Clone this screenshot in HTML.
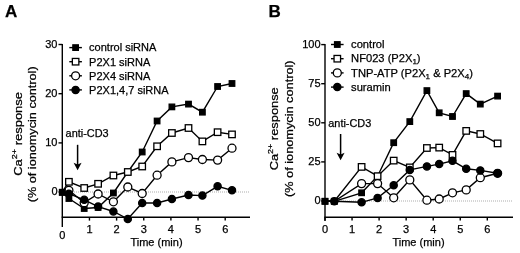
<!DOCTYPE html>
<html><head><meta charset="utf-8"><title>Figure</title>
<style>html,body{margin:0;padding:0;background:#fff}svg{display:block;filter:blur(0.35px)}text{font-family:"Liberation Sans", Arial, sans-serif;fill:#000;stroke:#000;stroke-width:0.25px}</style>
</head><body>
<svg width="520" height="253" viewBox="0 0 520 253">
<rect width="520" height="253" fill="#fff"/>
<text x="5" y="16.8" font-size="17" text-anchor="start" font-weight="bold">A</text>
<text x="268.5" y="16.8" font-size="17" text-anchor="start" font-weight="bold">B</text>
<path d="M62.3,43.9 V226.9" stroke="#000" stroke-width="1.4" fill="none"/>
<path d="M61.699999999999996,217.3 H250" stroke="#000" stroke-width="1.4" fill="none"/>
<path d="M58.5,44.5 H62.3" stroke="#000" stroke-width="1.4"/>
<text x="57.5" y="47.9" font-size="11" text-anchor="end" >30</text>
<path d="M58.5,93.7 H62.3" stroke="#000" stroke-width="1.4"/>
<text x="57.5" y="97.10000000000001" font-size="11" text-anchor="end" >20</text>
<path d="M58.5,142.9 H62.3" stroke="#000" stroke-width="1.4"/>
<text x="57.5" y="146.3" font-size="11" text-anchor="end" >10</text>
<path d="M58.5,192 H62.3" stroke="#000" stroke-width="1.4"/>
<text x="57.5" y="195.4" font-size="11" text-anchor="end" >0</text>
<text x="62.3" y="239.10000000000002" font-size="11" text-anchor="middle" >0</text>
<path d="M89.44999999999999,217.3 V220.60000000000002" stroke="#000" stroke-width="1.4"/>
<text x="89.44999999999999" y="232.9" font-size="11" text-anchor="middle" >1</text>
<path d="M116.6,217.3 V220.60000000000002" stroke="#000" stroke-width="1.4"/>
<text x="116.6" y="232.9" font-size="11" text-anchor="middle" >2</text>
<path d="M143.75,217.3 V220.60000000000002" stroke="#000" stroke-width="1.4"/>
<text x="143.75" y="232.9" font-size="11" text-anchor="middle" >3</text>
<path d="M170.89999999999998,217.3 V220.60000000000002" stroke="#000" stroke-width="1.4"/>
<text x="170.89999999999998" y="232.9" font-size="11" text-anchor="middle" >4</text>
<path d="M198.05,217.3 V220.60000000000002" stroke="#000" stroke-width="1.4"/>
<text x="198.05" y="232.9" font-size="11" text-anchor="middle" >5</text>
<path d="M225.2,217.3 V220.60000000000002" stroke="#000" stroke-width="1.4"/>
<text x="225.2" y="232.9" font-size="11" text-anchor="middle" >6</text>
<path d="M62,192 H250" stroke="#777" stroke-width="0.6" stroke-dasharray="1,1"/>
<text x="156.5" y="246.4" font-size="11" text-anchor="middle" >Time (min)</text>
<text transform="translate(21.8,133.9) rotate(-90) scale(1.128,1)" font-size="11.5" text-anchor="middle">Ca<tspan font-size="8" dy="-4.5">2+</tspan><tspan dy="4.5"> response</tspan></text>
<text transform="translate(36.1,134.3) rotate(-90) scale(1.103,1)" font-size="11.5" text-anchor="middle">(% of ionomycin control)</text>
<polyline fill="none" stroke="#000" stroke-width="1.4" points="62.30,192.30 68.90,198.50 84.20,208.50 98.10,207.50 113.40,193.00 127.80,172.00 142.20,152.00 157.10,121.00 171.90,106.90 188.50,104.10 202.40,112.20 217.60,86.50 232.00,83.50"/>
<rect x="59.55" y="189.55" width="5.5" height="5.5" fill="#000" stroke="#000" stroke-width="1.3"/>
<rect x="66.15" y="195.75" width="5.5" height="5.5" fill="#000" stroke="#000" stroke-width="1.3"/>
<rect x="81.45" y="205.75" width="5.5" height="5.5" fill="#000" stroke="#000" stroke-width="1.3"/>
<rect x="95.35" y="204.75" width="5.5" height="5.5" fill="#000" stroke="#000" stroke-width="1.3"/>
<rect x="110.65" y="190.25" width="5.5" height="5.5" fill="#000" stroke="#000" stroke-width="1.3"/>
<rect x="125.05" y="169.25" width="5.5" height="5.5" fill="#000" stroke="#000" stroke-width="1.3"/>
<rect x="139.45" y="149.25" width="5.5" height="5.5" fill="#000" stroke="#000" stroke-width="1.3"/>
<rect x="154.35" y="118.25" width="5.5" height="5.5" fill="#000" stroke="#000" stroke-width="1.3"/>
<rect x="169.15" y="104.15" width="5.5" height="5.5" fill="#000" stroke="#000" stroke-width="1.3"/>
<rect x="185.75" y="101.35" width="5.5" height="5.5" fill="#000" stroke="#000" stroke-width="1.3"/>
<rect x="199.65" y="109.45" width="5.5" height="5.5" fill="#000" stroke="#000" stroke-width="1.3"/>
<rect x="214.85" y="83.75" width="5.5" height="5.5" fill="#000" stroke="#000" stroke-width="1.3"/>
<rect x="229.25" y="80.75" width="5.5" height="5.5" fill="#000" stroke="#000" stroke-width="1.3"/>
<polyline fill="none" stroke="#000" stroke-width="1.4" points="62.30,192.00 68.90,181.80 84.20,188.00 98.10,183.80 113.40,175.50 127.80,172.00 142.20,166.50 157.10,146.30 171.90,133.00 188.50,128.00 202.40,141.40 217.60,132.20 232.00,134.40"/>
<rect x="65.65" y="178.55" width="6.5" height="6.5" fill="#fff" stroke="#000" stroke-width="1.3"/>
<rect x="80.95" y="184.75" width="6.5" height="6.5" fill="#fff" stroke="#000" stroke-width="1.3"/>
<rect x="94.85" y="180.55" width="6.5" height="6.5" fill="#fff" stroke="#000" stroke-width="1.3"/>
<rect x="110.15" y="172.25" width="6.5" height="6.5" fill="#fff" stroke="#000" stroke-width="1.3"/>
<rect x="124.55" y="168.75" width="6.5" height="6.5" fill="#fff" stroke="#000" stroke-width="1.3"/>
<rect x="138.95" y="163.25" width="6.5" height="6.5" fill="#fff" stroke="#000" stroke-width="1.3"/>
<rect x="153.85" y="143.05" width="6.5" height="6.5" fill="#fff" stroke="#000" stroke-width="1.3"/>
<rect x="168.65" y="129.75" width="6.5" height="6.5" fill="#fff" stroke="#000" stroke-width="1.3"/>
<rect x="185.25" y="124.75" width="6.5" height="6.5" fill="#fff" stroke="#000" stroke-width="1.3"/>
<rect x="199.15" y="138.15" width="6.5" height="6.5" fill="#fff" stroke="#000" stroke-width="1.3"/>
<rect x="214.35" y="128.95" width="6.5" height="6.5" fill="#fff" stroke="#000" stroke-width="1.3"/>
<rect x="228.75" y="131.15" width="6.5" height="6.5" fill="#fff" stroke="#000" stroke-width="1.3"/>
<polyline fill="none" stroke="#000" stroke-width="1.4" points="62.30,192.00 68.90,190.30 84.20,202.70 98.10,194.00 113.40,201.80 127.80,187.00 142.20,193.50 157.10,175.20 171.90,161.90 188.50,157.60 202.40,159.50 217.60,160.10 232.00,148.20"/>
<circle cx="68.90" cy="190.30" r="4.0" fill="#fff" stroke="#000" stroke-width="1.3"/>
<circle cx="84.20" cy="202.70" r="4.0" fill="#fff" stroke="#000" stroke-width="1.3"/>
<circle cx="98.10" cy="194.00" r="4.0" fill="#fff" stroke="#000" stroke-width="1.3"/>
<circle cx="113.40" cy="201.80" r="4.0" fill="#fff" stroke="#000" stroke-width="1.3"/>
<circle cx="127.80" cy="187.00" r="4.0" fill="#fff" stroke="#000" stroke-width="1.3"/>
<circle cx="142.20" cy="193.50" r="4.0" fill="#fff" stroke="#000" stroke-width="1.3"/>
<circle cx="157.10" cy="175.20" r="4.0" fill="#fff" stroke="#000" stroke-width="1.3"/>
<circle cx="171.90" cy="161.90" r="4.0" fill="#fff" stroke="#000" stroke-width="1.3"/>
<circle cx="188.50" cy="157.60" r="4.0" fill="#fff" stroke="#000" stroke-width="1.3"/>
<circle cx="202.40" cy="159.50" r="4.0" fill="#fff" stroke="#000" stroke-width="1.3"/>
<circle cx="217.60" cy="160.10" r="4.0" fill="#fff" stroke="#000" stroke-width="1.3"/>
<circle cx="232.00" cy="148.20" r="4.0" fill="#fff" stroke="#000" stroke-width="1.3"/>
<polyline fill="none" stroke="#000" stroke-width="1.4" points="62.30,192.00 68.90,193.70 84.20,199.80 98.10,206.60 113.40,211.50 127.80,219.00 142.20,203.00 157.10,203.00 171.90,199.00 188.50,195.00 202.40,195.60 217.60,186.30 232.00,190.30"/>
<circle cx="68.90" cy="193.70" r="3.6" fill="#000" stroke="#000" stroke-width="1.3"/>
<circle cx="84.20" cy="199.80" r="3.6" fill="#000" stroke="#000" stroke-width="1.3"/>
<circle cx="98.10" cy="206.60" r="3.6" fill="#000" stroke="#000" stroke-width="1.3"/>
<circle cx="113.40" cy="211.50" r="3.6" fill="#000" stroke="#000" stroke-width="1.3"/>
<circle cx="127.80" cy="219.00" r="3.6" fill="#000" stroke="#000" stroke-width="1.3"/>
<circle cx="142.20" cy="203.00" r="3.6" fill="#000" stroke="#000" stroke-width="1.3"/>
<circle cx="157.10" cy="203.00" r="3.6" fill="#000" stroke="#000" stroke-width="1.3"/>
<circle cx="171.90" cy="199.00" r="3.6" fill="#000" stroke="#000" stroke-width="1.3"/>
<circle cx="188.50" cy="195.00" r="3.6" fill="#000" stroke="#000" stroke-width="1.3"/>
<circle cx="202.40" cy="195.60" r="3.6" fill="#000" stroke="#000" stroke-width="1.3"/>
<circle cx="217.60" cy="186.30" r="3.6" fill="#000" stroke="#000" stroke-width="1.3"/>
<circle cx="232.00" cy="190.30" r="3.6" fill="#000" stroke="#000" stroke-width="1.3"/>
<rect x="59.55" y="189.55" width="5.5" height="5.5" fill="#000" stroke="#000" stroke-width="1.3"/>
<path d="M69.3,47.6 H81.89999999999999" stroke="#000" stroke-width="1.4"/>
<rect x="72.85" y="44.85" width="5.5" height="5.5" fill="#000" stroke="#000" stroke-width="1.3"/>
<text x="89.1" y="51.4" font-size="11" text-anchor="start" >control siRNA</text>
<path d="M69.3,61.7 H81.89999999999999" stroke="#000" stroke-width="1.4"/>
<rect x="72.35" y="58.45" width="6.5" height="6.5" fill="#fff" stroke="#000" stroke-width="1.3"/>
<text x="89.1" y="65.5" font-size="11" text-anchor="start" >P2X1 siRNA</text>
<path d="M69.3,75.8 H81.89999999999999" stroke="#000" stroke-width="1.4"/>
<circle cx="75.60" cy="75.80" r="4.0" fill="#fff" stroke="#000" stroke-width="1.3"/>
<text x="89.1" y="79.6" font-size="11" text-anchor="start" >P2X4 siRNA</text>
<path d="M69.3,89.9 H81.89999999999999" stroke="#000" stroke-width="1.4"/>
<circle cx="75.60" cy="89.90" r="3.6" fill="#000" stroke="#000" stroke-width="1.3"/>
<text x="89.1" y="93.7" font-size="11" text-anchor="start" >P2X1,4,7 siRNA</text>
<text x="65.6" y="136.9" font-size="10.9" text-anchor="start" >anti-CD3</text>
<path d="M77.6,144.8 V166.2" stroke="#000" stroke-width="1.5"/><path d="M73.6,162.7 L77.6,170.2 L81.6,162.7 L77.6,164.5 Z" fill="#000"/>
<path d="M325,44.0 V221.10000000000002" stroke="#000" stroke-width="1.4" fill="none"/>
<path d="M324.4,217.3 H513" stroke="#000" stroke-width="1.4" fill="none"/>
<path d="M321.2,44.6 H325" stroke="#000" stroke-width="1.4"/>
<text x="320.6" y="47.6" font-size="11" text-anchor="end" >100</text>
<path d="M321.2,83.7 H325" stroke="#000" stroke-width="1.4"/>
<text x="320.6" y="86.7" font-size="11" text-anchor="end" >75</text>
<path d="M321.2,122.8 H325" stroke="#000" stroke-width="1.4"/>
<text x="320.6" y="125.8" font-size="11" text-anchor="end" >50</text>
<path d="M321.2,161.9 H325" stroke="#000" stroke-width="1.4"/>
<text x="320.6" y="164.9" font-size="11" text-anchor="end" >25</text>
<path d="M321.2,201 H325" stroke="#000" stroke-width="1.4"/>
<text x="320.6" y="204.0" font-size="11" text-anchor="end" >0</text>
<path d="M325.0,217.3 V220.60000000000002" stroke="#000" stroke-width="1.4"/>
<text x="325.0" y="232.9" font-size="11" text-anchor="middle" >0</text>
<path d="M352.05,217.3 V220.60000000000002" stroke="#000" stroke-width="1.4"/>
<text x="352.05" y="232.9" font-size="11" text-anchor="middle" >1</text>
<path d="M379.1,217.3 V220.60000000000002" stroke="#000" stroke-width="1.4"/>
<text x="379.1" y="232.9" font-size="11" text-anchor="middle" >2</text>
<path d="M406.15,217.3 V220.60000000000002" stroke="#000" stroke-width="1.4"/>
<text x="406.15" y="232.9" font-size="11" text-anchor="middle" >3</text>
<path d="M433.2,217.3 V220.60000000000002" stroke="#000" stroke-width="1.4"/>
<text x="433.2" y="232.9" font-size="11" text-anchor="middle" >4</text>
<path d="M460.25,217.3 V220.60000000000002" stroke="#000" stroke-width="1.4"/>
<text x="460.25" y="232.9" font-size="11" text-anchor="middle" >5</text>
<path d="M487.3,217.3 V220.60000000000002" stroke="#000" stroke-width="1.4"/>
<text x="487.3" y="232.9" font-size="11" text-anchor="middle" >6</text>
<path d="M325,201 H513" stroke="#777" stroke-width="0.6" stroke-dasharray="1,1"/>
<text x="418.5" y="246.4" font-size="11" text-anchor="middle" >Time (min)</text>
<text transform="translate(277.9,128.8) rotate(-90) scale(1.12,1)" font-size="11.5" text-anchor="middle">Ca<tspan font-size="8" dy="-4.5">2+</tspan><tspan dy="4.5"> response</tspan></text>
<text transform="translate(292.5,128.7) rotate(-90) scale(1.108,1)" font-size="11.5" text-anchor="middle">(% of ionomycin control)</text>
<polyline fill="none" stroke="#000" stroke-width="1.4" points="325.00,201.30 334.30,201.30 361.60,192.80 377.60,176.20 393.70,142.70 409.80,121.60 426.90,90.60 439.20,112.80 452.50,116.50 466.20,93.60 480.30,104.10 497.60,96.10"/>
<rect x="322.25" y="198.55" width="5.5" height="5.5" fill="#000" stroke="#000" stroke-width="1.3"/>
<rect x="331.55" y="198.55" width="5.5" height="5.5" fill="#000" stroke="#000" stroke-width="1.3"/>
<rect x="358.85" y="190.05" width="5.5" height="5.5" fill="#000" stroke="#000" stroke-width="1.3"/>
<rect x="374.85" y="173.45" width="5.5" height="5.5" fill="#000" stroke="#000" stroke-width="1.3"/>
<rect x="390.95" y="139.95" width="5.5" height="5.5" fill="#000" stroke="#000" stroke-width="1.3"/>
<rect x="407.05" y="118.85" width="5.5" height="5.5" fill="#000" stroke="#000" stroke-width="1.3"/>
<rect x="424.15" y="87.85" width="5.5" height="5.5" fill="#000" stroke="#000" stroke-width="1.3"/>
<rect x="436.45" y="110.05" width="5.5" height="5.5" fill="#000" stroke="#000" stroke-width="1.3"/>
<rect x="449.75" y="113.75" width="5.5" height="5.5" fill="#000" stroke="#000" stroke-width="1.3"/>
<rect x="463.45" y="90.85" width="5.5" height="5.5" fill="#000" stroke="#000" stroke-width="1.3"/>
<rect x="477.55" y="101.35" width="5.5" height="5.5" fill="#000" stroke="#000" stroke-width="1.3"/>
<rect x="494.85" y="93.35" width="5.5" height="5.5" fill="#000" stroke="#000" stroke-width="1.3"/>
<polyline fill="none" stroke="#000" stroke-width="1.4" points="325.00,201.30 334.30,201.30 361.60,166.90 377.60,176.20 393.70,160.60 409.80,167.40 426.90,148.00 439.20,147.60 452.50,154.90 466.20,130.90 480.30,134.00 497.60,143.40"/>
<rect x="358.35" y="163.65" width="6.5" height="6.5" fill="#fff" stroke="#000" stroke-width="1.3"/>
<rect x="374.35" y="172.95" width="6.5" height="6.5" fill="#fff" stroke="#000" stroke-width="1.3"/>
<rect x="390.45" y="157.35" width="6.5" height="6.5" fill="#fff" stroke="#000" stroke-width="1.3"/>
<rect x="406.55" y="164.15" width="6.5" height="6.5" fill="#fff" stroke="#000" stroke-width="1.3"/>
<rect x="423.65" y="144.75" width="6.5" height="6.5" fill="#fff" stroke="#000" stroke-width="1.3"/>
<rect x="435.95" y="144.35" width="6.5" height="6.5" fill="#fff" stroke="#000" stroke-width="1.3"/>
<rect x="449.25" y="151.65" width="6.5" height="6.5" fill="#fff" stroke="#000" stroke-width="1.3"/>
<rect x="462.95" y="127.65" width="6.5" height="6.5" fill="#fff" stroke="#000" stroke-width="1.3"/>
<rect x="477.05" y="130.75" width="6.5" height="6.5" fill="#fff" stroke="#000" stroke-width="1.3"/>
<rect x="494.35" y="140.15" width="6.5" height="6.5" fill="#fff" stroke="#000" stroke-width="1.3"/>
<polyline fill="none" stroke="#000" stroke-width="1.4" points="325.00,201.30 334.30,201.30 361.60,183.60 377.60,183.60 393.70,197.80 409.80,179.90 426.90,200.20 439.20,199.00 452.50,192.80 466.20,189.90 480.30,177.70 497.60,173.30"/>
<circle cx="361.60" cy="183.60" r="4.0" fill="#fff" stroke="#000" stroke-width="1.3"/>
<circle cx="377.60" cy="183.60" r="4.0" fill="#fff" stroke="#000" stroke-width="1.3"/>
<circle cx="393.70" cy="197.80" r="4.0" fill="#fff" stroke="#000" stroke-width="1.3"/>
<circle cx="409.80" cy="179.90" r="4.0" fill="#fff" stroke="#000" stroke-width="1.3"/>
<circle cx="426.90" cy="200.20" r="4.0" fill="#fff" stroke="#000" stroke-width="1.3"/>
<circle cx="439.20" cy="199.00" r="4.0" fill="#fff" stroke="#000" stroke-width="1.3"/>
<circle cx="452.50" cy="192.80" r="4.0" fill="#fff" stroke="#000" stroke-width="1.3"/>
<circle cx="466.20" cy="189.90" r="4.0" fill="#fff" stroke="#000" stroke-width="1.3"/>
<circle cx="480.30" cy="177.70" r="4.0" fill="#fff" stroke="#000" stroke-width="1.3"/>
<circle cx="497.60" cy="173.30" r="4.0" fill="#fff" stroke="#000" stroke-width="1.3"/>
<polyline fill="none" stroke="#000" stroke-width="1.4" points="325.00,201.30 334.30,201.30 361.60,202.30 377.60,197.90 393.70,185.30 409.80,169.90 426.90,166.40 439.20,164.10 452.50,160.80 466.20,168.80 480.30,170.40 497.60,173.30"/>
<circle cx="334.30" cy="201.30" r="3.6" fill="#000" stroke="#000" stroke-width="1.3"/>
<circle cx="361.60" cy="202.30" r="3.6" fill="#000" stroke="#000" stroke-width="1.3"/>
<circle cx="377.60" cy="197.90" r="3.6" fill="#000" stroke="#000" stroke-width="1.3"/>
<circle cx="393.70" cy="185.30" r="3.6" fill="#000" stroke="#000" stroke-width="1.3"/>
<circle cx="409.80" cy="169.90" r="3.6" fill="#000" stroke="#000" stroke-width="1.3"/>
<circle cx="426.90" cy="166.40" r="3.6" fill="#000" stroke="#000" stroke-width="1.3"/>
<circle cx="439.20" cy="164.10" r="3.6" fill="#000" stroke="#000" stroke-width="1.3"/>
<circle cx="452.50" cy="160.80" r="3.6" fill="#000" stroke="#000" stroke-width="1.3"/>
<circle cx="466.20" cy="168.80" r="3.6" fill="#000" stroke="#000" stroke-width="1.3"/>
<circle cx="480.30" cy="170.40" r="3.6" fill="#000" stroke="#000" stroke-width="1.3"/>
<circle cx="497.60" cy="173.30" r="3.6" fill="#000" stroke="#000" stroke-width="1.3"/>
<rect x="322.25" y="198.55" width="5.5" height="5.5" fill="#000" stroke="#000" stroke-width="1.3"/>
<rect x="331.55" y="198.55" width="5.5" height="5.5" fill="#000" stroke="#000" stroke-width="1.3"/>
<path d="M331.0,44.5 H343.6" stroke="#000" stroke-width="1.4"/>
<rect x="334.55" y="41.75" width="5.5" height="5.5" fill="#000" stroke="#000" stroke-width="1.3"/>
<text x="351.1" y="48.1" font-size="11.15" text-anchor="start" >control</text>
<path d="M331.0,58.7 H343.6" stroke="#000" stroke-width="1.4"/>
<rect x="334.05" y="55.45" width="6.5" height="6.5" fill="#fff" stroke="#000" stroke-width="1.3"/>
<text x="351.1" y="62.300000000000004" font-size="11.15" text-anchor="start" >NF023 (P2X<tspan font-size="8" dy="2">1</tspan><tspan dy="-2">)</tspan></text>
<path d="M331.0,72.9 H343.6" stroke="#000" stroke-width="1.4"/>
<circle cx="337.30" cy="72.90" r="4.0" fill="#fff" stroke="#000" stroke-width="1.3"/>
<text x="351.1" y="76.5" font-size="11.15" text-anchor="start" >TNP-ATP (P2X<tspan font-size="8" dy="2">1</tspan><tspan dy="-2"> &amp; P2X</tspan><tspan font-size="8" dy="2">4</tspan><tspan dy="-2">)</tspan></text>
<path d="M331.0,87.1 H343.6" stroke="#000" stroke-width="1.4"/>
<circle cx="337.30" cy="87.10" r="3.6" fill="#000" stroke="#000" stroke-width="1.3"/>
<text x="351.1" y="90.69999999999999" font-size="11.15" text-anchor="start" >suramin</text>
<text x="328.3" y="126.9" font-size="10.9" text-anchor="start" >anti-CD3</text>
<path d="M340.6,134 V156.2" stroke="#000" stroke-width="1.5"/><path d="M336.6,152.7 L340.6,160.2 L344.6,152.7 L340.6,154.5 Z" fill="#000"/>
</svg>
</body></html>
